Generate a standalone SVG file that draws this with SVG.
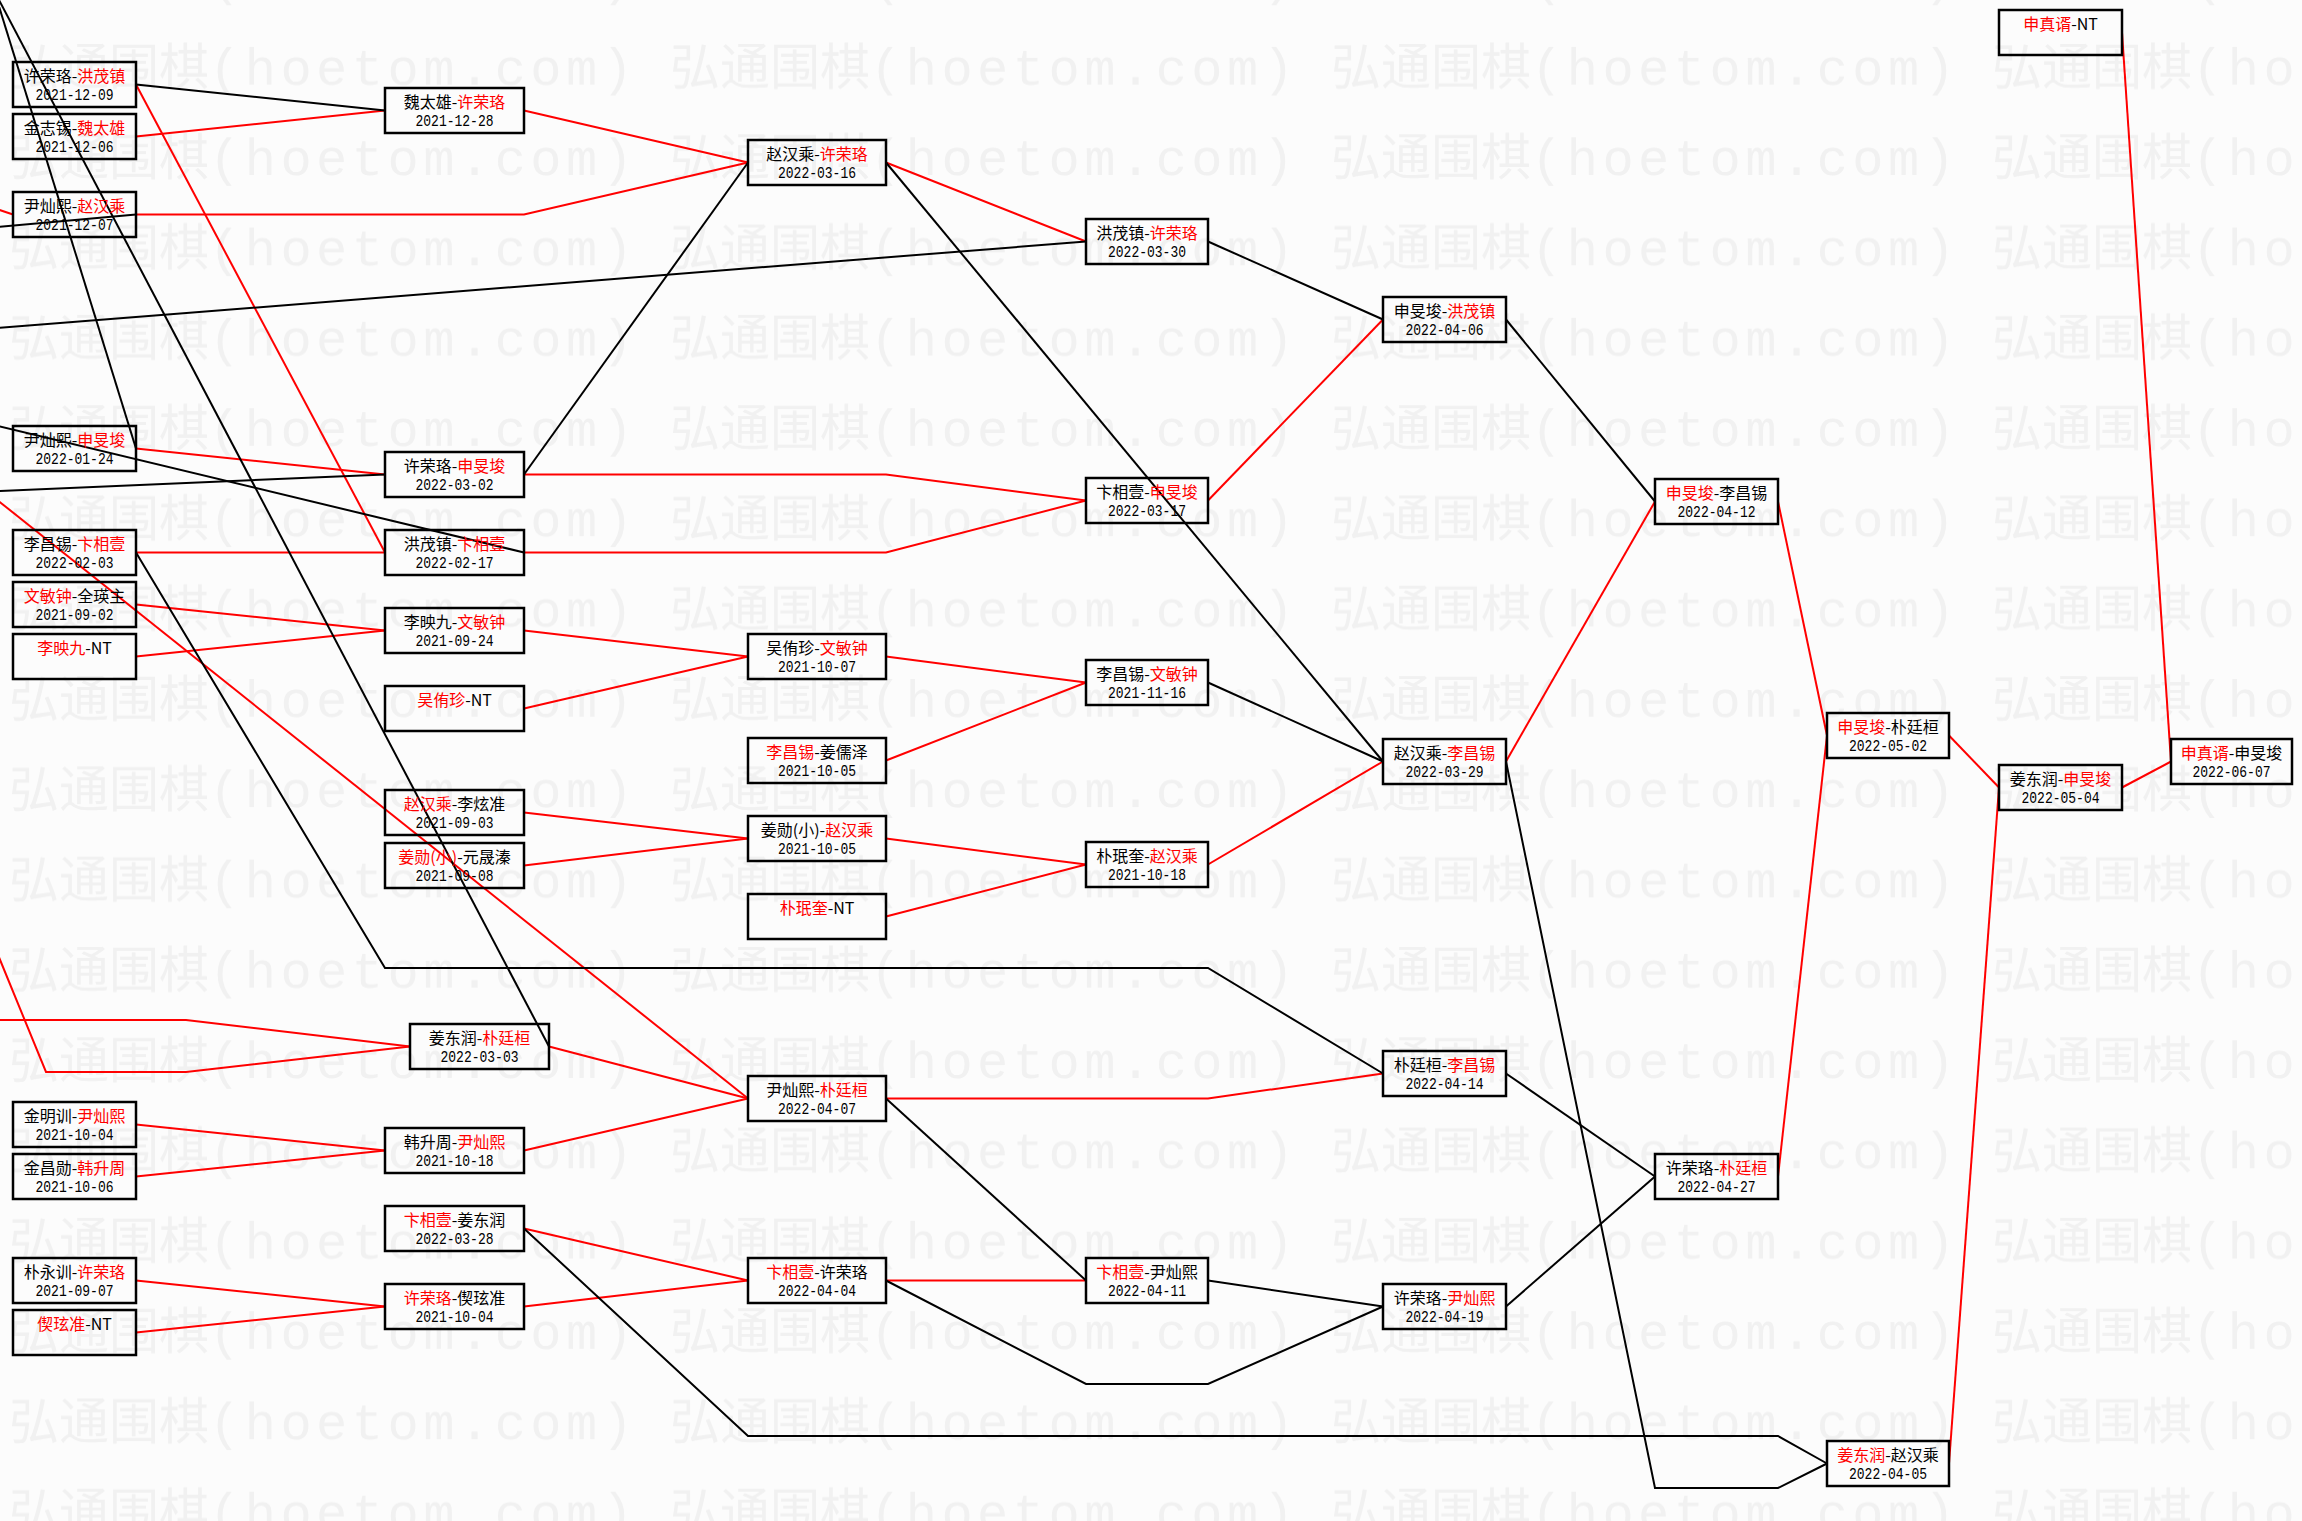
<svg xmlns="http://www.w3.org/2000/svg" width="2302" height="1521" viewBox="0 0 2302 1521">
<defs>
<style>
.box{fill:none;stroke:#000;stroke-width:2.5}
.t{font-family:"Noto Sans CJK SC","Noto Sans",sans-serif;font-size:16px;text-anchor:middle;fill:#000}
.r{fill:#f00}
.d{font-family:"Liberation Mono",monospace;font-size:16px;text-anchor:middle;fill:#000}
.lr{stroke:#f00;stroke-width:2;fill:none}
.lk{stroke:#000;stroke-width:2;fill:none}
.wc{font-family:"Noto Sans CJK SC",sans-serif;font-size:50px;fill:#f1f1f1}
.wa{font-family:"Liberation Mono",monospace;font-size:52px;fill:#f1f1f1}
</style>
<pattern id="wm" patternUnits="userSpaceOnUse" x="9" y="40" width="661" height="90.3">
<text class="wc" x="0" y="45">弘通围棋</text>
<text class="wa" x="200" y="45" textLength="424" lengthAdjust="spacing">(hoetom.com)</text>
</pattern>
</defs>
<rect width="2302" height="1521" fill="#fcfcfc"/>
<rect width="2302" height="1521" fill="url(#wm)"/>
<g id="connectors">
<line class="lr" x1="136" y1="136.5" x2="385" y2="110.5"/>
<line class="lr" x1="136" y1="84.5" x2="385" y2="552.5"/>
<line class="lr" x1="-2" y1="209.5" x2="13" y2="214.5"/>
<polyline class="lr" points="136,214.5 524,214.5 748,162.5"/>
<line class="lr" x1="136" y1="448.5" x2="385" y2="474.5"/>
<line class="lr" x1="136" y1="552.5" x2="385" y2="552.5"/>
<line class="lr" x1="136" y1="604.5" x2="385" y2="630.5"/>
<line class="lr" x1="136" y1="656.5" x2="385" y2="630.5"/>
<line class="lr" x1="-4" y1="499" x2="748" y2="1098.5"/>
<polyline class="lr" points="-4,950 46,1072 186,1072 410,1046.5"/>
<polyline class="lr" points="-2,1020 186,1020 410,1046.5"/>
<line class="lr" x1="136" y1="1124.5" x2="385" y2="1150.5"/>
<line class="lr" x1="136" y1="1176.5" x2="385" y2="1150.5"/>
<line class="lr" x1="136" y1="1280.5" x2="385" y2="1306.5"/>
<line class="lr" x1="136" y1="1332.5" x2="385" y2="1306.5"/>
<line class="lr" x1="524" y1="110.5" x2="748" y2="162.5"/>
<polyline class="lr" points="524,474.5 886,474.5 1086,500.5"/>
<polyline class="lr" points="524,552.5 886,552.5 1086,500.5"/>
<line class="lr" x1="524" y1="630.5" x2="748" y2="656.5"/>
<line class="lr" x1="524" y1="708.5" x2="748" y2="656.5"/>
<line class="lr" x1="524" y1="812.5" x2="748" y2="838.5"/>
<line class="lr" x1="524" y1="865.5" x2="748" y2="838.5"/>
<line class="lr" x1="549" y1="1046.5" x2="748" y2="1098.5"/>
<line class="lr" x1="524" y1="1150.5" x2="748" y2="1098.5"/>
<line class="lr" x1="524" y1="1228.5" x2="748" y2="1280.5"/>
<line class="lr" x1="524" y1="1306.5" x2="748" y2="1280.5"/>
<line class="lr" x1="886" y1="162.5" x2="1086" y2="241.5"/>
<line class="lr" x1="886" y1="656.5" x2="1086" y2="682.5"/>
<line class="lr" x1="886" y1="760.5" x2="1086" y2="682.5"/>
<line class="lr" x1="886" y1="838.5" x2="1086" y2="864.5"/>
<line class="lr" x1="886" y1="916.5" x2="1086" y2="864.5"/>
<polyline class="lr" points="886,1098.5 1208,1098.5 1383,1073.5"/>
<line class="lr" x1="886" y1="1280.5" x2="1086" y2="1280.5"/>
<line class="lr" x1="1208" y1="500.5" x2="1383" y2="319.5"/>
<line class="lr" x1="1208" y1="864.5" x2="1383" y2="761.5"/>
<line class="lr" x1="1506" y1="761.5" x2="1655" y2="501.5"/>
<line class="lr" x1="1778" y1="501.5" x2="1827" y2="735.5"/>
<line class="lr" x1="1778" y1="1176.5" x2="1827" y2="735.5"/>
<line class="lr" x1="1949" y1="735.5" x2="1999" y2="787.5"/>
<line class="lr" x1="1949" y1="1463.5" x2="1999" y2="787.5"/>
<line class="lr" x1="2122" y1="787.5" x2="2171" y2="761.5"/>
<line class="lr" x1="2122" y1="32.5" x2="2171" y2="761.5"/>
<line class="lk" x1="-3" y1="0" x2="136" y2="448.5"/>
<line class="lk" x1="-1" y1="0" x2="549" y2="1046.5"/>
<line class="lk" x1="136" y1="84.5" x2="385" y2="110.5"/>
<line class="lk" x1="-2" y1="227" x2="136" y2="214.5"/>
<line class="lk" x1="-2" y1="328" x2="1086" y2="241.5"/>
<line class="lk" x1="-2" y1="426" x2="524" y2="552.5"/>
<line class="lk" x1="-2" y1="491" x2="385" y2="474.5"/>
<polyline class="lk" points="136,552.5 385,968 1208,968 1383,1073.5"/>
<line class="lk" x1="524" y1="474.5" x2="748" y2="162.5"/>
<line class="lk" x1="886" y1="162.5" x2="1383" y2="761.5"/>
<polyline class="lk" points="524,1228.5 748,1436 1778,1436 1827,1463.5"/>
<line class="lk" x1="886" y1="1098.5" x2="1086" y2="1280.5"/>
<polyline class="lk" points="886,1280.5 1086,1384 1208,1384 1383,1306.5"/>
<line class="lk" x1="1208" y1="241.5" x2="1383" y2="319.5"/>
<line class="lk" x1="1208" y1="682.5" x2="1383" y2="761.5"/>
<line class="lk" x1="1208" y1="1280.5" x2="1383" y2="1306.5"/>
<line class="lk" x1="1506" y1="319.5" x2="1655" y2="501.5"/>
<polyline class="lk" points="1506,761.5 1655,1488 1778,1488 1827,1463.5"/>
<line class="lk" x1="1506" y1="1073.5" x2="1655" y2="1176.5"/>
<line class="lk" x1="1506" y1="1306.5" x2="1655" y2="1176.5"/>
</g>
<g id="n-a1"><rect class="box" x="13" y="62" width="123" height="45"/><text class="t" x="74.5" y="82">许荣珞-<tspan class="r">洪茂镇</tspan></text><text class="d" x="74.5" y="100" textLength="78" lengthAdjust="spacingAndGlyphs">2021-12-09</text></g>
<g id="n-a2"><rect class="box" x="13" y="114" width="123" height="45"/><text class="t" x="74.5" y="134">金志锡-<tspan class="r">魏太雄</tspan></text><text class="d" x="74.5" y="152" textLength="78" lengthAdjust="spacingAndGlyphs">2021-12-06</text></g>
<g id="n-a3"><rect class="box" x="13" y="192" width="123" height="45"/><text class="t" x="74.5" y="212">尹灿熙-<tspan class="r">赵汉乘</tspan></text><text class="d" x="74.5" y="230" textLength="78" lengthAdjust="spacingAndGlyphs">2021-12-07</text></g>
<g id="n-a4"><rect class="box" x="13" y="426" width="123" height="45"/><text class="t" x="74.5" y="446">尹灿熙-<tspan class="r">申旻埈</tspan></text><text class="d" x="74.5" y="464" textLength="78" lengthAdjust="spacingAndGlyphs">2022-01-24</text></g>
<g id="n-a5"><rect class="box" x="13" y="530" width="123" height="45"/><text class="t" x="74.5" y="550">李昌锡-<tspan class="r">卞相壹</tspan></text><text class="d" x="74.5" y="568" textLength="78" lengthAdjust="spacingAndGlyphs">2022-02-03</text></g>
<g id="n-a6"><rect class="box" x="13" y="582" width="123" height="45"/><text class="t" x="74.5" y="602"><tspan class="r">文敏钟</tspan>-全瑛主</text><text class="d" x="74.5" y="620" textLength="78" lengthAdjust="spacingAndGlyphs">2021-09-02</text></g>
<g id="n-a7"><rect class="box" x="13" y="634" width="123" height="45"/><text class="t" x="74.5" y="654"><tspan class="r">李映九</tspan>-NT</text></g>
<g id="n-a8"><rect class="box" x="13" y="1102" width="123" height="45"/><text class="t" x="74.5" y="1122">金明训-<tspan class="r">尹灿熙</tspan></text><text class="d" x="74.5" y="1140" textLength="78" lengthAdjust="spacingAndGlyphs">2021-10-04</text></g>
<g id="n-a9"><rect class="box" x="13" y="1154" width="123" height="45"/><text class="t" x="74.5" y="1174">金昌勋-<tspan class="r">韩升周</tspan></text><text class="d" x="74.5" y="1192" textLength="78" lengthAdjust="spacingAndGlyphs">2021-10-06</text></g>
<g id="n-a10"><rect class="box" x="13" y="1258" width="123" height="45"/><text class="t" x="74.5" y="1278">朴永训-<tspan class="r">许荣珞</tspan></text><text class="d" x="74.5" y="1296" textLength="78" lengthAdjust="spacingAndGlyphs">2021-09-07</text></g>
<g id="n-a11"><rect class="box" x="13" y="1310" width="123" height="45"/><text class="t" x="74.5" y="1330"><tspan class="r">偰玹准</tspan>-NT</text></g>
<g id="n-b1"><rect class="box" x="385" y="88" width="139" height="45"/><text class="t" x="454.5" y="108">魏太雄-<tspan class="r">许荣珞</tspan></text><text class="d" x="454.5" y="126" textLength="78" lengthAdjust="spacingAndGlyphs">2021-12-28</text></g>
<g id="n-b2"><rect class="box" x="385" y="452" width="139" height="45"/><text class="t" x="454.5" y="472">许荣珞-<tspan class="r">申旻埈</tspan></text><text class="d" x="454.5" y="490" textLength="78" lengthAdjust="spacingAndGlyphs">2022-03-02</text></g>
<g id="n-b3"><rect class="box" x="385" y="530" width="139" height="45"/><text class="t" x="454.5" y="550">洪茂镇-<tspan class="r">卞相壹</tspan></text><text class="d" x="454.5" y="568" textLength="78" lengthAdjust="spacingAndGlyphs">2022-02-17</text></g>
<g id="n-b4"><rect class="box" x="385" y="608" width="139" height="45"/><text class="t" x="454.5" y="628">李映九-<tspan class="r">文敏钟</tspan></text><text class="d" x="454.5" y="646" textLength="78" lengthAdjust="spacingAndGlyphs">2021-09-24</text></g>
<g id="n-b5"><rect class="box" x="385" y="686" width="139" height="45"/><text class="t" x="454.5" y="706"><tspan class="r">吴侑珍</tspan>-NT</text></g>
<g id="n-b6"><rect class="box" x="385" y="790" width="139" height="45"/><text class="t" x="454.5" y="810"><tspan class="r">赵汉乘</tspan>-李炫准</text><text class="d" x="454.5" y="828" textLength="78" lengthAdjust="spacingAndGlyphs">2021-09-03</text></g>
<g id="n-b7"><rect class="box" x="385" y="843" width="139" height="45"/><text class="t" x="454.5" y="863"><tspan class="r">姜勋(小)</tspan>-元晟溱</text><text class="d" x="454.5" y="881" textLength="78" lengthAdjust="spacingAndGlyphs">2021-09-08</text></g>
<g id="n-b8"><rect class="box" x="410" y="1024" width="139" height="45"/><text class="t" x="479.5" y="1044">姜东润-<tspan class="r">朴廷桓</tspan></text><text class="d" x="479.5" y="1062" textLength="78" lengthAdjust="spacingAndGlyphs">2022-03-03</text></g>
<g id="n-b9"><rect class="box" x="385" y="1128" width="139" height="45"/><text class="t" x="454.5" y="1148">韩升周-<tspan class="r">尹灿熙</tspan></text><text class="d" x="454.5" y="1166" textLength="78" lengthAdjust="spacingAndGlyphs">2021-10-18</text></g>
<g id="n-b10"><rect class="box" x="385" y="1206" width="139" height="45"/><text class="t" x="454.5" y="1226"><tspan class="r">卞相壹</tspan>-姜东润</text><text class="d" x="454.5" y="1244" textLength="78" lengthAdjust="spacingAndGlyphs">2022-03-28</text></g>
<g id="n-b11"><rect class="box" x="385" y="1284" width="139" height="45"/><text class="t" x="454.5" y="1304"><tspan class="r">许荣珞</tspan>-偰玹准</text><text class="d" x="454.5" y="1322" textLength="78" lengthAdjust="spacingAndGlyphs">2021-10-04</text></g>
<g id="n-c1"><rect class="box" x="748" y="140" width="138" height="45"/><text class="t" x="817" y="160">赵汉乘-<tspan class="r">许荣珞</tspan></text><text class="d" x="817" y="178" textLength="78" lengthAdjust="spacingAndGlyphs">2022-03-16</text></g>
<g id="n-c2"><rect class="box" x="748" y="634" width="138" height="45"/><text class="t" x="817" y="654">吴侑珍-<tspan class="r">文敏钟</tspan></text><text class="d" x="817" y="672" textLength="78" lengthAdjust="spacingAndGlyphs">2021-10-07</text></g>
<g id="n-c3"><rect class="box" x="748" y="738" width="138" height="45"/><text class="t" x="817" y="758"><tspan class="r">李昌锡</tspan>-姜儒泽</text><text class="d" x="817" y="776" textLength="78" lengthAdjust="spacingAndGlyphs">2021-10-05</text></g>
<g id="n-c4"><rect class="box" x="748" y="816" width="138" height="45"/><text class="t" x="817" y="836">姜勋(小)-<tspan class="r">赵汉乘</tspan></text><text class="d" x="817" y="854" textLength="78" lengthAdjust="spacingAndGlyphs">2021-10-05</text></g>
<g id="n-c5"><rect class="box" x="748" y="894" width="138" height="45"/><text class="t" x="817" y="914"><tspan class="r">朴珉奎</tspan>-NT</text></g>
<g id="n-c6"><rect class="box" x="748" y="1076" width="138" height="45"/><text class="t" x="817" y="1096">尹灿熙-<tspan class="r">朴廷桓</tspan></text><text class="d" x="817" y="1114" textLength="78" lengthAdjust="spacingAndGlyphs">2022-04-07</text></g>
<g id="n-c7"><rect class="box" x="748" y="1258" width="138" height="45"/><text class="t" x="817" y="1278"><tspan class="r">卞相壹</tspan>-许荣珞</text><text class="d" x="817" y="1296" textLength="78" lengthAdjust="spacingAndGlyphs">2022-04-04</text></g>
<g id="n-d1"><rect class="box" x="1086" y="219" width="122" height="45"/><text class="t" x="1147" y="239">洪茂镇-<tspan class="r">许荣珞</tspan></text><text class="d" x="1147" y="257" textLength="78" lengthAdjust="spacingAndGlyphs">2022-03-30</text></g>
<g id="n-d2"><rect class="box" x="1086" y="478" width="122" height="45"/><text class="t" x="1147" y="498">卞相壹-<tspan class="r">申旻埈</tspan></text><text class="d" x="1147" y="516" textLength="78" lengthAdjust="spacingAndGlyphs">2022-03-17</text></g>
<g id="n-d3"><rect class="box" x="1086" y="660" width="122" height="45"/><text class="t" x="1147" y="680">李昌锡-<tspan class="r">文敏钟</tspan></text><text class="d" x="1147" y="698" textLength="78" lengthAdjust="spacingAndGlyphs">2021-11-16</text></g>
<g id="n-d4"><rect class="box" x="1086" y="842" width="122" height="45"/><text class="t" x="1147" y="862">朴珉奎-<tspan class="r">赵汉乘</tspan></text><text class="d" x="1147" y="880" textLength="78" lengthAdjust="spacingAndGlyphs">2021-10-18</text></g>
<g id="n-d5"><rect class="box" x="1086" y="1258" width="122" height="45"/><text class="t" x="1147" y="1278"><tspan class="r">卞相壹</tspan>-尹灿熙</text><text class="d" x="1147" y="1296" textLength="78" lengthAdjust="spacingAndGlyphs">2022-04-11</text></g>
<g id="n-e1"><rect class="box" x="1383" y="297" width="123" height="45"/><text class="t" x="1444.5" y="317">申旻埈-<tspan class="r">洪茂镇</tspan></text><text class="d" x="1444.5" y="335" textLength="78" lengthAdjust="spacingAndGlyphs">2022-04-06</text></g>
<g id="n-e2"><rect class="box" x="1383" y="739" width="123" height="45"/><text class="t" x="1444.5" y="759">赵汉乘-<tspan class="r">李昌锡</tspan></text><text class="d" x="1444.5" y="777" textLength="78" lengthAdjust="spacingAndGlyphs">2022-03-29</text></g>
<g id="n-e3"><rect class="box" x="1383" y="1051" width="123" height="45"/><text class="t" x="1444.5" y="1071">朴廷桓-<tspan class="r">李昌锡</tspan></text><text class="d" x="1444.5" y="1089" textLength="78" lengthAdjust="spacingAndGlyphs">2022-04-14</text></g>
<g id="n-e4"><rect class="box" x="1383" y="1284" width="123" height="45"/><text class="t" x="1444.5" y="1304">许荣珞-<tspan class="r">尹灿熙</tspan></text><text class="d" x="1444.5" y="1322" textLength="78" lengthAdjust="spacingAndGlyphs">2022-04-19</text></g>
<g id="n-f1"><rect class="box" x="1655" y="479" width="123" height="45"/><text class="t" x="1716.5" y="499"><tspan class="r">申旻埈</tspan>-李昌锡</text><text class="d" x="1716.5" y="517" textLength="78" lengthAdjust="spacingAndGlyphs">2022-04-12</text></g>
<g id="n-f2"><rect class="box" x="1655" y="1154" width="123" height="45"/><text class="t" x="1716.5" y="1174">许荣珞-<tspan class="r">朴廷桓</tspan></text><text class="d" x="1716.5" y="1192" textLength="78" lengthAdjust="spacingAndGlyphs">2022-04-27</text></g>
<g id="n-g1"><rect class="box" x="1827" y="713" width="122" height="45"/><text class="t" x="1888" y="733"><tspan class="r">申旻埈</tspan>-朴廷桓</text><text class="d" x="1888" y="751" textLength="78" lengthAdjust="spacingAndGlyphs">2022-05-02</text></g>
<g id="n-g2"><rect class="box" x="1827" y="1441" width="122" height="45"/><text class="t" x="1888" y="1461"><tspan class="r">姜东润</tspan>-赵汉乘</text><text class="d" x="1888" y="1479" textLength="78" lengthAdjust="spacingAndGlyphs">2022-04-05</text></g>
<g id="n-h1"><rect class="box" x="1999" y="10" width="123" height="45"/><text class="t" x="2060.5" y="30"><tspan class="r">申真谞</tspan>-NT</text></g>
<g id="n-h2"><rect class="box" x="1999" y="765" width="123" height="45"/><text class="t" x="2060.5" y="785">姜东润-<tspan class="r">申旻埈</tspan></text><text class="d" x="2060.5" y="803" textLength="78" lengthAdjust="spacingAndGlyphs">2022-05-04</text></g>
<g id="n-i1"><rect class="box" x="2171" y="739" width="121" height="45"/><text class="t" x="2231.5" y="759"><tspan class="r">申真谞</tspan>-申旻埈</text><text class="d" x="2231.5" y="777" textLength="78" lengthAdjust="spacingAndGlyphs">2022-06-07</text></g>
</svg>
